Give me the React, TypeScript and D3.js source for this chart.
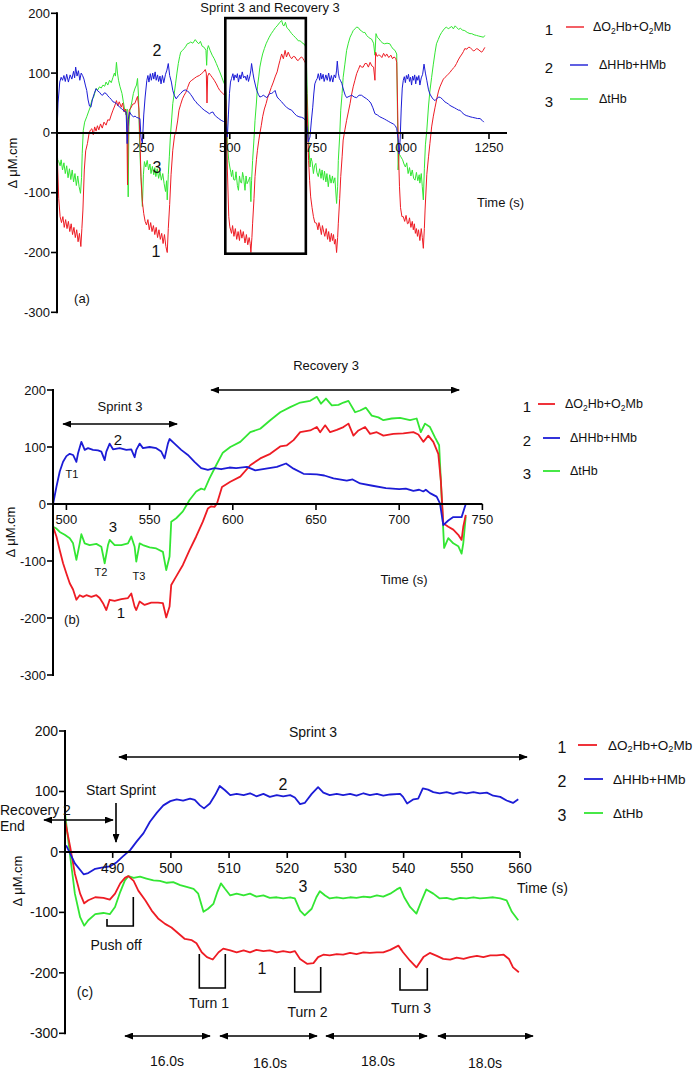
import React from 'react';
import * as d3 from 'd3';

type P = [number, number];

const RED = '#ee1c24';
const BLUE = '#1c1cd6';
const GREEN = '#33e633';
const FONT = '"Liberation Sans", Arial, Helvetica, sans-serif';

const yTicks = [-300, -200, -100, 0, 100, 200];
const aXTicks = [250, 500, 750, 1000, 1250];
const bXTicks = [500, 550, 600, 650, 700, 750];
const cXTicks = [490, 500, 510, 520, 530, 540, 550, 560];
const seriesNums = ['1', '2', '3'];

// ---------- Panel (a) : whole session ----------
const aHHb: P[] = [[0,0],[3,50],[8,85],[12,93],[16,88],[20,96],[24,86],[28,98],[33,85],[38,97],[43,90],[48,103],[51,92],[54,110],[58,95],[62,104],[66,88],[70,100],[74,96],[78,90],[82,80],[86,71],[90,55],[94,45],[98,43],[103,57],[108,66],[113,74],[118,70],[123,68],[128,64],[132,63],[137,67],[142,66],[147,62],[152,59],[157,56],[162,52],[167,51],[172,49],[177,46],[181,43],[186,41],[191,38],[196,36],[200,35],[203,-18],[206,22],[210,35],[215,30],[221,27],[226,28],[230,26],[235,25],[240,24],[243,-7],[247,-18],[251,30],[255,60],[260,88],[263,96],[266,85],[270,99],[273,88],[277,100],[280,90],[284,102],[287,88],[291,97],[294,86],[298,95],[301,82],[305,96],[309,84],[314,98],[318,105],[322,116],[326,96],[331,85],[335,71],[340,62],[345,57],[351,62],[358,66],[364,70],[371,72],[377,70],[382,68],[387,64],[392,60],[397,55],[402,52],[407,48],[412,46],[418,42],[426,38],[434,35],[441,32],[446,34],[451,35],[456,30],[461,27],[468,24],[475,21],[482,19],[488,16],[491,5],[493,-7],[496,30],[499,66],[502,85],[505,91],[509,99],[512,88],[515,97],[519,92],[522,99],[525,85],[529,97],[532,90],[536,102],[540,92],[544,95],[548,88],[551,97],[554,86],[558,95],[561,105],[563,116],[567,100],[570,90],[574,80],[578,71],[583,64],[587,60],[592,61],[597,63],[602,61],[607,59],[612,63],[616,66],[621,66],[626,68],[631,71],[634,65],[637,60],[643,56],[650,52],[657,47],[664,43],[671,40],[679,38],[686,33],[693,29],[700,27],[708,26],[715,24],[720,20],[724,8],[727,-15],[730,-10],[732,-7],[736,20],[740,43],[743,65],[746,82],[750,88],[753,91],[756,99],[760,88],[763,100],[766,90],[770,98],[773,86],[778,97],[782,88],[786,100],[790,86],[794,96],[798,85],[802,97],[806,92],[809,105],[811,120],[814,100],[817,91],[820,88],[824,83],[830,70],[834,63],[838,59],[845,61],[853,63],[860,60],[867,59],[874,63],[881,63],[888,60],[896,57],[902,54],[908,50],[914,42],[920,32],[927,30],[934,27],[941,25],[948,23],[954,21],[960,19],[966,17],[973,15],[979,12],[983,7],[987,-10],[990,-35],[993,-10],[996,40],[999,75],[1002,88],[1005,94],[1008,84],[1011,96],[1014,90],[1017,98],[1020,86],[1023,93],[1026,80],[1029,95],[1032,88],[1035,97],[1038,82],[1041,94],[1044,88],[1047,96],[1050,80],[1054,92],[1058,98],[1062,115],[1066,100],[1070,88],[1075,72],[1079,65],[1084,60],[1089,56],[1094,54],[1100,58],[1105,60],[1110,59],[1116,56],[1122,52],[1128,50],[1133,48],[1137,46],[1143,44],[1150,42],[1156,40],[1162,38],[1166,38],[1172,34],[1178,31],[1184,29],[1190,28],[1195,27],[1202,26],[1210,25],[1217,24],[1224,24],[1230,21],[1235,18]];

const aO2Hb: P[] = [[0,0],[2,-60],[5,-110],[9,-140],[13,-150],[17,-140],[21,-158],[25,-145],[29,-160],[33,-148],[37,-165],[41,-152],[45,-170],[49,-158],[53,-175],[57,-162],[61,-182],[65,-168],[69,-190],[72,-160],[75,-129],[79,-62],[83,-30],[88,-18],[93,0],[97,5],[101,7],[105,-3],[109,10],[113,3],[117,12],[121,5],[126,15],[131,8],[136,18],[142,13],[147,22],[152,21],[157,30],[162,38],[167,45],[172,54],[176,45],[180,52],[186,43],[190,50],[194,35],[198,40],[202,25],[204,-87],[206,10],[209,38],[214,42],[219,48],[225,49],[229,55],[233,61],[237,40],[240,-10],[243,-73],[247,-115],[251,-135],[255,-148],[259,-154],[263,-145],[267,-162],[271,-150],[275,-165],[279,-155],[283,-170],[287,-158],[291,-175],[295,-162],[299,-178],[303,-168],[307,-185],[311,-170],[315,-190],[319,-200],[322,-160],[326,-120],[330,-70],[335,-29],[340,-5],[344,2],[349,20],[353,38],[358,48],[363,57],[368,63],[373,68],[378,76],[384,85],[390,88],[397,91],[404,94],[412,96],[418,99],[424,102],[429,106],[432,100],[434,50],[436,95],[440,100],[445,96],[449,93],[455,88],[461,82],[466,76],[471,71],[478,67],[485,63],[489,54],[493,-62],[497,-140],[500,-157],[505,-168],[508,-155],[512,-173],[516,-160],[520,-178],[524,-165],[528,-180],[531,-162],[535,-176],[539,-165],[544,-184],[548,-170],[552,-187],[556,-175],[559,-185],[561,-200],[564,-175],[566,-151],[570,-110],[573,-73],[577,-45],[580,-29],[584,-12],[587,-1],[591,12],[595,27],[600,40],[605,49],[609,58],[614,66],[620,76],[626,85],[632,95],[637,102],[641,112],[645,121],[650,132],[655,124],[660,138],[664,127],[669,135],[674,128],[679,124],[684,128],[689,127],[694,122],[698,121],[703,125],[708,127],[712,124],[715,121],[720,116],[722,80],[724,38],[728,-46],[731,-80],[734,-107],[738,-125],[742,-140],[746,-150],[751,-151],[755,-162],[758,-150],[761,-157],[765,-170],[768,-155],[772,-166],[775,-173],[779,-160],[783,-178],[786,-165],[790,-182],[794,-168],[797,-180],[800,-170],[803,-186],[806,-178],[809,-200],[812,-175],[814,-151],[818,-110],[821,-73],[825,-40],[828,-12],[833,5],[838,21],[843,35],[848,49],[852,63],[857,77],[862,88],[867,99],[872,106],[877,113],[881,110],[886,110],[891,116],[896,116],[901,110],[906,118],[911,112],[916,110],[920,88],[922,135],[926,128],[930,130],[934,130],[940,126],[945,133],[950,128],[954,132],[960,126],[966,130],[971,124],[975,127],[980,125],[983,118],[985,60],[988,-30],[991,-90],[994,-125],[998,-140],[1002,-140],[1006,-148],[1010,-138],[1014,-152],[1017,-151],[1020,-142],[1024,-158],[1028,-148],[1031,-162],[1034,-152],[1037,-168],[1040,-160],[1043,-173],[1046,-162],[1050,-180],[1054,-160],[1057,-175],[1060,-193],[1063,-160],[1065,-129],[1070,-70],[1075,-40],[1079,-18],[1084,10],[1089,28],[1094,43],[1100,60],[1104,70],[1108,77],[1114,85],[1118,90],[1123,93],[1130,97],[1137,101],[1143,106],[1150,110],[1156,116],[1161,122],[1166,127],[1172,132],[1176,136],[1180,141],[1186,140],[1190,143],[1195,143],[1200,140],[1205,137],[1209,138],[1214,141],[1218,140],[1224,137],[1229,135],[1233,138],[1238,143]];

const aTHb: P[] = [[0,-30],[2,-45],[5,-48],[9,-55],[12,-45],[16,-62],[20,-50],[24,-68],[28,-55],[32,-75],[36,-60],[40,-78],[44,-62],[48,-82],[52,-68],[56,-88],[60,-72],[64,-90],[68,-101],[71,-75],[73,-34],[76,4],[80,18],[86,27],[91,35],[96,43],[101,55],[106,60],[110,68],[113,74],[118,72],[123,77],[128,75],[133,80],[138,78],[142,85],[147,80],[152,88],[157,84],[162,93],[166,100],[169,95],[172,118],[175,100],[178,88],[182,78],[188,66],[192,52],[196,38],[200,30],[203,40],[206,-107],[208,10],[211,38],[216,50],[221,66],[226,75],[230,80],[233,91],[236,60],[239,-20],[243,-75],[247,-123],[250,-70],[253,-48],[257,-57],[261,-46],[265,-62],[269,-52],[272,-68],[276,-56],[280,-70],[283,-58],[286,-73],[290,-60],[294,-76],[298,-65],[302,-79],[306,-68],[310,-85],[314,-98],[317,-80],[319,-112],[322,-70],[325,-40],[328,-7],[332,25],[335,49],[339,65],[343,82],[347,100],[351,116],[355,128],[358,135],[363,138],[368,141],[373,145],[377,149],[382,150],[387,152],[393,150],[400,156],[405,152],[410,149],[415,153],[420,145],[426,143],[431,138],[433,113],[435,140],[438,146],[443,138],[449,130],[455,124],[461,116],[466,109],[471,102],[477,93],[482,85],[486,80],[489,66],[493,-18],[497,-46],[500,-57],[503,-66],[505,-73],[508,-62],[511,-78],[515,-79],[518,-65],[522,-88],[525,-96],[528,-72],[531,-82],[534,-84],[537,-66],[540,-75],[544,-96],[547,-72],[550,-85],[554,-80],[558,-74],[561,-115],[563,-80],[566,-46],[570,-10],[573,21],[577,50],[580,77],[584,95],[587,110],[591,122],[595,132],[600,141],[605,149],[609,154],[614,160],[620,166],[626,171],[632,176],[637,179],[641,182],[645,185],[650,188],[654,180],[657,179],[661,185],[665,176],[669,174],[674,170],[679,166],[684,163],[689,160],[694,157],[698,154],[703,154],[708,152],[712,149],[715,149],[720,143],[722,110],[724,66],[728,-7],[732,-57],[735,-42],[738,-48],[742,-68],[745,-55],[749,-51],[752,-66],[756,-73],[760,-60],[764,-76],[767,-62],[771,-79],[774,-64],[778,-82],[781,-68],[785,-90],[789,-70],[793,-84],[797,-72],[800,-84],[804,-75],[809,-118],[812,-90],[814,-46],[818,-5],[821,38],[825,66],[828,93],[833,115],[838,138],[843,150],[848,160],[853,166],[857,171],[862,174],[867,177],[872,176],[877,172],[882,170],[886,168],[891,168],[896,163],[901,160],[906,158],[910,157],[916,150],[920,130],[923,166],[927,160],[932,157],[937,153],[943,150],[948,149],[955,150],[963,149],[968,144],[973,140],[978,138],[983,132],[985,38],[987,-62],[990,-35],[995,-40],[1000,-45],[1004,-52],[1008,-57],[1012,-50],[1016,-68],[1020,-58],[1024,-72],[1028,-62],[1032,-76],[1036,-79],[1040,-66],[1044,-80],[1048,-70],[1050,-84],[1054,-68],[1057,-90],[1060,-112],[1063,-60],[1066,-20],[1070,4],[1075,45],[1079,70],[1084,93],[1089,115],[1094,135],[1098,149],[1103,156],[1108,163],[1113,168],[1118,172],[1122,175],[1127,177],[1132,174],[1137,176],[1142,178],[1147,174],[1152,179],[1157,176],[1162,173],[1167,175],[1173,172],[1180,171],[1187,168],[1195,166],[1200,166],[1207,164],[1214,163],[1220,162],[1227,161],[1234,160],[1238,163]];

// ---------- Panel (b) : sprint 3 + recovery 3 ----------
const bHHb: P[] = [[492,0],[494,30],[496,57],[498,74],[500,84],[502,88],[504,86],[506,74],[507,89],[509,109],[511,95],[513,98],[516,95],[519,94],[521,92],[523,77],[524,92],[526,106],[528,96],[532,98],[536,95],[539,96],[541,82],[542,95],[544,106],[546,98],[550,100],[554,98],[557,92],[559,80],[561,106],[562,114],[565,106],[569,95],[573,86],[577,74],[581,63],[585,60],[589,63],[593,61],[598,64],[602,63],[608.5,65],[613.5,59],[620,62],[626.5,65],[632,71],[636.5,62],[642.5,53],[650.5,52],[655,50],[660.5,45],[668.5,41],[672,43],[676.5,36],[684,32],[692,28],[700,26],[704,27],[708.5,23],[712,25],[714.5,22],[716,25],[718.5,19],[722.5,13],[724.5,1],[726.5,-37],[729.5,-29],[732.5,-23],[737.5,-23],[740,0]];

const bO2Hb: P[] = [[492,-40],[494,-57],[496,-81],[498,-104],[500,-122],[502,-139],[504,-150],[506,-168],[508,-160],[510,-163],[512,-160],[515,-163],[518,-160],[520,-165],[522,-174],[524,-186],[526,-168],[529,-170],[533,-167],[537,-165],[539,-157],[541,-180],[542,-186],[544,-171],[547,-177],[551,-173],[555,-173],[558,-174],[560,-199],[562,-180],[563,-142],[566,-127],[570,-107],[574,-81],[578,-57],[582,-31],[585,-8],[587,-4],[589,-5],[590.5,1],[593.5,30],[598.5,39],[604.5,48],[610.5,68],[616.5,80],[622.5,88],[628.5,101],[632.5,103],[636.5,112],[640.5,126],[646.5,129],[650.5,135],[652.5,126],[655.5,138],[658.5,126],[662.5,130],[666.5,135],[669.5,141],[672.5,120],[675.5,129],[679.5,135],[682.5,123],[686.5,126],[690.5,120],[696.5,123],[702.5,124],[708.5,126],[711.5,122],[714.5,109],[717.5,120],[720.5,109],[723.5,88],[725,42],[726.5,-34],[729.5,-40],[732.5,-45],[735.5,-54],[737.5,-63],[738.5,-40],[740,-19]];

const bTHb: P[] = [[492,-40],[494,-43],[496,-49],[499,-54],[502,-60],[504,-69],[506,-98],[508,-69],[509,-53],[511,-69],[514,-72],[518,-70],[521,-75],[523,-104],[525,-72],[526,-63],[529,-72],[533,-72],[537,-69],[539,-57],[541,-75],[542,-101],[544,-69],[546,-72],[550,-76],[554,-78],[558,-84],[560,-116],[562,-92],[563,-31],[566,-25],[570,-13],[574,7],[578,22],[581,27],[583,25],[586,45],[590,68],[594,90],[598.5,100],[604.5,109],[610.5,126],[616.5,132],[622.5,147],[628.5,161],[634.5,170],[640.5,178],[646.5,181],[650.5,188],[653,176],[656,185],[659.5,173],[663.5,174],[666.5,178],[669.5,181],[673.5,161],[676.5,164],[680,169],[683.5,155],[687.5,152],[690.5,147],[695.5,150],[700.5,151],[706.5,147],[710.5,150],[713,126],[715.5,141],[718.5,135],[721.5,117],[724,103],[725.5,13],[727,-77],[729.5,-60],[732.5,-69],[735.5,-74],[737.5,-87],[738.5,-69],[740,-22]];

// ---------- Panel (c) : sprint 3 detail ----------
const cHHb: P[] = [[482,11],[482.7,-3],[483.5,-19],[485,-37],[485.8,-35],[487,-28],[488.1,-26],[489.5,-24],[490.7,-17],[491.8,-7],[493,3],[494.1,17],[495.3,31],[496.4,50],[497.6,65],[498.7,77],[499.9,84],[501,87],[502.1,85],[503.3,88],[504.1,86],[505,77],[505.7,72],[506.7,80],[507.6,94],[508.4,109],[509.3,102],[510.2,94],[511.3,96],[512.5,94],[513.6,97],[514.7,92],[515.9,96],[517,91],[518.2,94],[519.3,92],[520.5,94],[521.3,90],[522.2,79],[523,81],[524.2,96],[525.3,107],[526.2,98],[527.3,94],[528.5,96],[529.6,94],[530.8,96],[531.9,93],[533.1,97],[534.2,94],[535.4,96],[536.5,93],[537.7,95],[539.4,96],[539.9,91],[540.6,80],[541.7,87],[542.5,88],[543.3,105],[544.2,103],[545.1,99],[546.2,97],[547.4,99],[548.5,96],[549.7,99],[550.8,97],[552,99],[553.1,97],[554.3,98],[555.4,93],[556.6,91],[557.7,85],[558.8,81],[559.7,87]];

const cO2Hb: P[] = [[481.8,52],[482.7,8],[483.5,-36],[484.4,-69],[485.1,-85],[485.8,-80],[487,-75],[488.4,-76],[489.5,-79],[490.4,-69],[491.3,-52],[492.1,-43],[492.7,-40],[493.6,-48],[494.4,-64],[495.6,-80],[496.7,-97],[497.8,-110],[499,-119],[500.1,-125],[501.3,-135],[502.4,-144],[503.6,-146],[504.4,-151],[505.3,-166],[506.2,-174],[507.2,-178],[508.2,-166],[509,-160],[510.2,-163],[511.3,-166],[512.5,-163],[513.6,-166],[514.7,-162],[515.9,-164],[517,-163],[518.2,-166],[519.3,-164],[520.5,-166],[521.3,-164],[522.2,-177],[523.4,-185],[524.5,-184],[525.3,-174],[526.2,-170],[527.3,-171],[528.5,-169],[529.6,-170],[530.8,-167],[531.9,-169],[533.1,-166],[534.2,-167],[535.4,-166],[536.5,-166],[537.7,-162],[539.1,-155],[539.9,-166],[541.1,-180],[542.2,-191],[543.4,-174],[544.5,-167],[545.7,-172],[546.8,-177],[548,-178],[549.1,-175],[550.3,-177],[551.4,-174],[552.6,-172],[553.7,-174],[554.9,-171],[556,-171],[557.2,-170],[558.1,-177],[558.8,-191],[559.8,-199]];

const cTHb: P[] = [[481.8,64],[482.7,-8],[483.5,-69],[484.4,-108],[485.1,-122],[485.8,-113],[487,-103],[488.4,-101],[489.5,-103],[490.4,-91],[491.3,-66],[492.1,-47],[492.7,-40],[493.6,-43],[494.7,-41],[495.8,-44],[497,-47],[498.1,-48],[499.3,-51],[500.4,-50],[501.6,-55],[502.7,-58],[503.9,-61],[504.7,-69],[505.6,-99],[506.4,-94],[507.3,-86],[508,-66],[508.6,-52],[509.3,-61],[510.2,-72],[511.3,-69],[512.5,-72],[513.6,-69],[514.7,-74],[515.9,-72],[517,-76],[518.2,-75],[519.3,-77],[520.5,-75],[521.3,-77],[522.2,-97],[523,-105],[524.2,-94],[525,-75],[525.6,-65],[526.5,-72],[527.3,-77],[528.5,-75],[529.6,-77],[530.8,-75],[531.9,-76],[533.1,-74],[534.2,-75],[535.4,-72],[536.5,-74],[537.7,-69],[538.8,-62],[539.4,-59],[540.1,-75],[541.1,-91],[542.2,-102],[543.1,-80],[543.9,-62],[545.1,-69],[546.2,-77],[547.4,-76],[548.5,-79],[549.7,-76],[550.8,-77],[552,-75],[553.1,-77],[554.3,-76],[555.4,-75],[556.6,-77],[557.7,-80],[558.6,-99],[559.7,-113]];

// ---------- helpers ----------
type Scale = d3.ScaleLinear<number, number>;

function Axes({ xs, ys, left, right, xTicks, fs, labOff }: { xs: Scale; ys: Scale; left: number; right: number; xTicks: number[]; fs: number; labOff: number }) {
  const y0 = ys(0);
  return (
    <g>
      <line x1={left} x2={left} y1={ys(200) - 1} y2={ys(-300) + 1} stroke="#000" strokeWidth={2} />
      {yTicks.map((t) => (
        <g key={'y' + t}>
          <line x1={left - 6} x2={left} y1={ys(t)} y2={ys(t)} stroke="#000" strokeWidth={1.6} />
          <text x={left - 7} y={ys(t)} textAnchor="end" dominantBaseline="central" fontSize={fs} fill="#111">{t}</text>
        </g>
      ))}
      <line x1={left} x2={right} y1={y0} y2={y0} stroke="#000" strokeWidth={2} />
      {xTicks.map((t) => (
        <g key={'x' + t}>
          <line x1={xs(t)} x2={xs(t)} y1={y0} y2={y0 + 6} stroke="#000" strokeWidth={1.6} />
          <text x={xs(t)} y={y0 + labOff} textAnchor="middle" dominantBaseline="central" fontSize={fs} fill="#111">{t}</text>
        </g>
      ))}
    </g>
  );
}

function Series({ xs, ys, data, w }: { xs: Scale; ys: Scale; data: P[][]; w: number }) {
  const line = d3.line<P>().x((d) => xs(d[0])).y((d) => ys(d[1]));
  const colors = [RED, BLUE, GREEN];
  const order = [2, 0, 1];
  return (
    <g>
      {order.map((i) => (
        <path key={i} d={line(data[i]) || ''} fill="none" stroke={colors[i]} strokeWidth={w} strokeLinejoin="round" />
      ))}
    </g>
  );
}

function LegendName({ i, x, y, fs }: { i: number; x: number; y: number; fs: number }) {
  const sub = { fontSize: fs * 0.68 };
  if (i === 0)
    return (
      <text x={x} y={y} dominantBaseline="central" fontSize={fs} fill="#111">
        ΔO<tspan {...sub} dy={fs * 0.3}>2</tspan><tspan dy={-fs * 0.3}>Hb+O</tspan><tspan {...sub} dy={fs * 0.3}>2</tspan><tspan dy={-fs * 0.3}>Mb</tspan>
      </text>
    );
  return (
    <text x={x} y={y} dominantBaseline="central" fontSize={fs} fill="#111">{i === 1 ? 'ΔHHb+HMb' : 'ΔtHb'}</text>
  );
}

function Legend({ numX, ys, l1, l2, t1, t2, fs, nfs, w }: { numX: number; ys: number[]; l1: [number, number]; l2: [number, number]; t1: number; t2: number; fs: number; nfs: number; w: number }) {
  const colors = [RED, BLUE, GREEN];
  return (
    <g>
      {seriesNums.map((n, i) => {
        const lx = i === 0 ? l1 : l2;
        return (
          <g key={n}>
            <text x={numX} y={ys[i] + 2} textAnchor="middle" dominantBaseline="central" fontSize={nfs} fill="#111">{n}</text>
            <line x1={lx[0]} x2={lx[1]} y1={ys[i]} y2={ys[i]} stroke={colors[i]} strokeWidth={w} />
            <LegendName i={i} x={i === 0 ? t1 : t2} y={ys[i]} fs={fs} />
          </g>
        );
      })}
    </g>
  );
}

function YLabel({ x, y, fs }: { x: number; y: number; fs: number }) {
  return (
    <text transform={`translate(${x},${y}) rotate(-90)`} textAnchor="middle" dominantBaseline="central" fontSize={fs} fill="#111">Δ μM.cm</text>
  );
}

export default function App() {
  const ax = d3.scaleLinear().domain([0, 1250]).range([57, 489]);
  const ay = d3.scaleLinear().domain([-300, 200]).range([312.3, 13.3]);
  const bx = d3.scaleLinear().domain([500, 750]).range([66.4, 482.4]);
  const by = d3.scaleLinear().domain([-300, 200]).range([675, 390]);
  const cx = d3.scaleLinear().domain([490, 560]).range([112.7, 520]);
  const cy = d3.scaleLinear().domain([-300, 200]).range([1033.3, 731]);

  const arrow = { stroke: '#000', strokeWidth: 1.6 };
  const dbl = { ...arrow, markerStart: 'url(#ah)', markerEnd: 'url(#ah)' };

  return (
    <svg width={696} height={1070} style={{ position: 'absolute', left: 0, top: 0, background: '#fff' }} fontFamily={FONT}>
      <defs>
        <marker id="ah" viewBox="0 0 10 10" refX="9" refY="5" markerWidth="9" markerHeight="7" markerUnits="userSpaceOnUse" orient="auto-start-reverse" preserveAspectRatio="none">
          <path d="M0,0 L10,5 L0,10 z" fill="#000" />
        </marker>
      </defs>
      <rect x={0} y={0} width={696} height={1070} fill="#fff" />

      {/* ---------- (a) ---------- */}
      <Series xs={ax} ys={ay} data={[aO2Hb, aHHb, aTHb]} w={1} />
      <Axes xs={ax} ys={ay} left={57} right={507} xTicks={aXTicks} fs={13} labOff={15} />
      <rect x={ax(487)} y={ay(192)} width={ax(720) - ax(487)} height={ay(-202) - ay(192)} fill="none" stroke="#000" strokeWidth={2.6} />
      <text x={270} y={7} textAnchor="middle" dominantBaseline="central" fontSize={13} fill="#111">Sprint 3 and Recovery 3</text>
      <text x={477} y={202} dominantBaseline="central" fontSize={13} fill="#111">Time (s)</text>
      <YLabel x={12} y={163} fs={13} />
      <text x={82} y={298} textAnchor="middle" dominantBaseline="central" fontSize={13} fill="#111">(a)</text>
      <text x={157} y={50} textAnchor="middle" dominantBaseline="central" fontSize={16} fill="#111">2</text>
      <text x={157} y={167} textAnchor="middle" dominantBaseline="central" fontSize={16} fill="#111">3</text>
      <text x={156} y={251} textAnchor="middle" dominantBaseline="central" fontSize={16} fill="#111">1</text>
      <Legend numX={549} ys={[27, 65, 99]} l1={[566, 584]} l2={[570, 588]} t1={593} t2={599} fs={12.5} nfs={15} w={1.4} />

      {/* ---------- (b) ---------- */}
      <Series xs={bx} ys={by} data={[bO2Hb, bHHb, bTHb]} w={1.8} />
      <Axes xs={bx} ys={by} left={53} right={482.4} xTicks={bXTicks} fs={13} labOff={15} />
      <text x={326} y={365} textAnchor="middle" dominantBaseline="central" fontSize={13} fill="#111">Recovery 3</text>
      <line x1={bx(587)} x2={bx(736)} y1={by(200)} y2={by(200)} {...dbl} />
      <text x={120} y={406} textAnchor="middle" dominantBaseline="central" fontSize={13} fill="#111">Sprint 3</text>
      <line x1={bx(498)} x2={bx(566.5)} y1={424} y2={424} {...dbl} />
      <text x={404} y={579} textAnchor="middle" dominantBaseline="central" fontSize={13} fill="#111">Time (s)</text>
      <YLabel x={10} y={532} fs={13} />
      <text x={72} y={474} textAnchor="middle" dominantBaseline="central" fontSize={11} fill="#111">T1</text>
      <text x={101} y={572} textAnchor="middle" dominantBaseline="central" fontSize={11} fill="#111">T2</text>
      <text x={139} y={576} textAnchor="middle" dominantBaseline="central" fontSize={11} fill="#111">T3</text>
      <text x={118} y={439} textAnchor="middle" dominantBaseline="central" fontSize={15} fill="#111">2</text>
      <text x={113} y={526} textAnchor="middle" dominantBaseline="central" fontSize={15} fill="#111">3</text>
      <text x={121} y={612} textAnchor="middle" dominantBaseline="central" fontSize={15} fill="#111">1</text>
      <text x={72} y={619} textAnchor="middle" dominantBaseline="central" fontSize={13} fill="#111">(b)</text>
      <Legend numX={527} ys={[404, 438, 471]} l1={[538, 555]} l2={[543, 560]} t1={565} t2={570} fs={12.5} nfs={15} w={1.8} />

      {/* ---------- (c) ---------- */}
      <Series xs={cx} ys={cy} data={[cO2Hb, cHHb, cTHb]} w={1.8} />
      <Axes xs={cx} ys={cy} left={65} right={520} xTicks={cXTicks} fs={14} labOff={16} />
      <text x={313} y={732} textAnchor="middle" dominantBaseline="central" fontSize={14} fill="#111">Sprint 3</text>
      <line x1={119} x2={527} y1={757} y2={757} {...dbl} />
      <text x={121} y={790} textAnchor="middle" dominantBaseline="central" fontSize={14} fill="#111">Start Sprint</text>
      <line x1={116} x2={116} y1={803} y2={842} {...arrow} markerEnd="url(#ah)" />
      <text x={0} y={810} dominantBaseline="central" fontSize={14} fill="#111">Recovery 2</text>
      <text x={0} y={826} dominantBaseline="central" fontSize={14} fill="#111">End</text>
      <line x1={44} x2={113} y1={820} y2={820} {...dbl} />
      <path d="M107,919 L107,926 L133.3,926 L133.3,897" fill="none" stroke="#000" strokeWidth={1.6} />
      <text x={116} y={945} textAnchor="middle" dominantBaseline="central" fontSize={14} fill="#111">Push off</text>
      <path d="M199.3,954 L199.3,988 L225.3,988 L225.3,954" fill="none" stroke="#000" strokeWidth={1.6} />
      <path d="M294.7,967 L294.7,992 L320.7,992 L320.7,967" fill="none" stroke="#000" strokeWidth={1.6} />
      <path d="M400,968 L400,990 L427.3,990 L427.3,968" fill="none" stroke="#000" strokeWidth={1.6} />
      <text x={209} y={1003} textAnchor="middle" dominantBaseline="central" fontSize={14} fill="#111">Turn 1</text>
      <text x={307.5} y={1012} textAnchor="middle" dominantBaseline="central" fontSize={14} fill="#111">Turn 2</text>
      <text x={411} y={1008} textAnchor="middle" dominantBaseline="central" fontSize={14} fill="#111">Turn 3</text>
      <text x={262} y={968} textAnchor="middle" dominantBaseline="central" fontSize={16} fill="#111">1</text>
      <text x={283} y={784} textAnchor="middle" dominantBaseline="central" fontSize={16} fill="#111">2</text>
      <text x={303} y={886} textAnchor="middle" dominantBaseline="central" fontSize={16} fill="#111">3</text>
      <text x={85} y={992} textAnchor="middle" dominantBaseline="central" fontSize={14} fill="#111">(c)</text>
      <text x={517} y={888} dominantBaseline="central" fontSize={14} fill="#111">Time (s)</text>
      <YLabel x={17} y={881} fs={13} />
      <line x1={125} x2={210} y1={1036} y2={1036} {...dbl} />
      <line x1={220} x2={317} y1={1036} y2={1036} {...dbl} />
      <line x1={326} x2={427} y1={1036} y2={1036} {...dbl} />
      <line x1={438} x2={533} y1={1036} y2={1036} {...dbl} />
      <text x={167} y={1061} textAnchor="middle" dominantBaseline="central" fontSize={14} fill="#111">16.0s</text>
      <text x={270} y={1063} textAnchor="middle" dominantBaseline="central" fontSize={14} fill="#111">16.0s</text>
      <text x={378} y={1061} textAnchor="middle" dominantBaseline="central" fontSize={14} fill="#111">18.0s</text>
      <text x={485} y={1063} textAnchor="middle" dominantBaseline="central" fontSize={14} fill="#111">18.0s</text>
      <Legend numX={562} ys={[745, 779, 813]} l1={[578, 597]} l2={[584, 603]} t1={608} t2={613} fs={13.5} nfs={16} w={1.8} />
    </svg>
  );
}
